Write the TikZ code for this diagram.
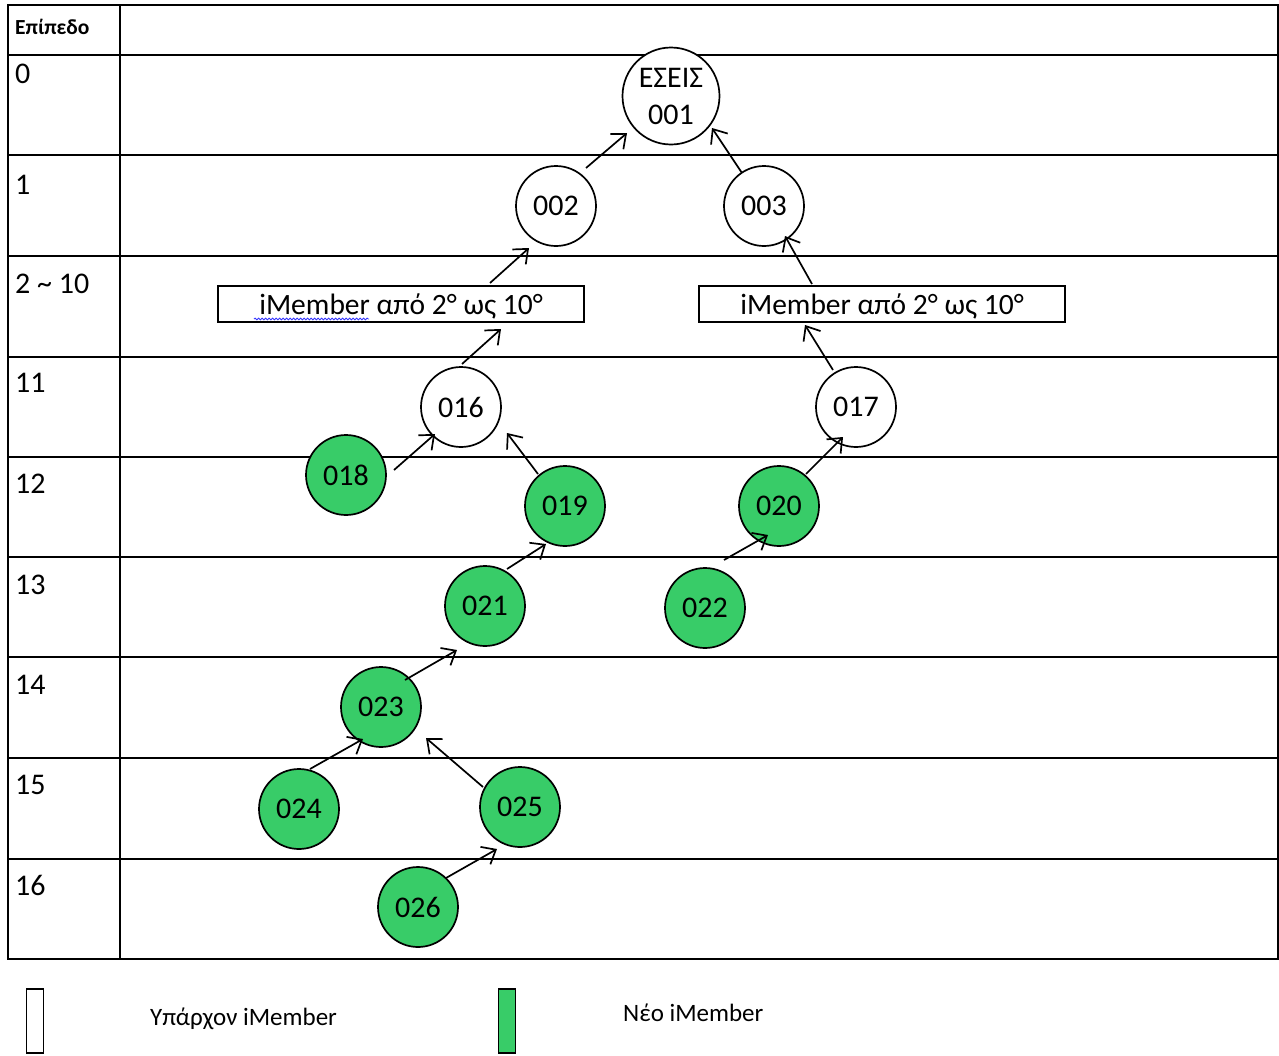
\documentclass[tikz,border=0pt]{standalone}
\usepackage{fontspec}
\setmainfont{Carlito}
\usetikzlibrary{arrows.meta,decorations.pathmorphing}
\definecolor{newgreen}{RGB}{56,204,104}
\begin{document}
\begin{tikzpicture}[x=1pt,y=-1pt,
  member/.style={circle,draw=black,line width=1.7pt,minimum size=80pt,inner sep=0pt,font=\fontsize{30}{37}\selectfont},
  old/.style={member,fill=white},
  new/.style={member,fill=newgreen},
  rangebox/.style={draw,line width=1.7pt,minimum width=366pt,minimum height=36pt,inner sep=0pt,text height=22pt,text depth=1pt,font=\fontsize{29.5}{35}\selectfont},
  lvl/.style={anchor=west,inner sep=0pt,font=\fontsize{30}{36}\selectfont},
  arr/.style={line width=1.7pt,-{Straight Barb[length=12pt,width=20pt]}},
  grid/.style={line width=1.5pt},
  legendbox/.style={draw,line width=1.8pt,minimum width=17pt,minimum height=64pt,inner sep=0pt},
  legendtext/.style={anchor=west,inner sep=0pt,font=\fontsize{25}{30}\selectfont}
]
\useasboundingbox (0,0) rectangle (1279,1055);
\fill[white] (0,0) rectangle (1279,1055);
% table
\draw[grid] (8,5) rectangle (1278,959);
\draw[grid] (120,5) -- (120,959);
\foreach \yy in {55,155,256,357,457,557,657,758,859} \draw[grid] (8,\yy) -- (1278,\yy);
% level labels
\node[anchor=west,inner sep=0pt,font=\bfseries\fontsize{21.5}{25}\selectfont] (hdr) at (15,27) {Επίπεδο};
\node[lvl] (l0) at (15,73.5) {0};
\node[lvl] (l1) at (15,185) {1};
\node[lvl] (l2) at (15,284) {2 \char"007E{} 10};
\node[lvl] (l11) at (15,383) {11};
\node[lvl] (l12) at (15,484) {12};
\node[lvl] (l13) at (15,584.5) {13};
\node[lvl] (l14) at (15,685) {14};
\node[lvl] (l15) at (15,784.5) {15};
\node[lvl] (l16) at (15,885) {16};
% members
\node[old,align=center,minimum size=97pt] (n001) at (671,96) {ΕΣΕΙΣ\\001};
\node[old] (n002) at (556,206) {002};
\node[old] (n003) at (764,206) {003};
\node[rangebox] (bl) at (401,304) {iMember από 2° ως 10°};
\node[rangebox] (br) at (882,304) {iMember από 2° ως 10°};
\node[old] (n016) at (461,407) {016};
\node[old] (n017) at (856,407) {017};
\node[new] (n018) at (346,475) {018};
\node[new] (n019) at (565,506) {019};
\node[new] (n020) at (779,506) {020};
\node[new] (n021) at (485,606) {021};
\node[new] (n022) at (705,608) {022};
\node[new] (n023) at (381,707) {023};
\node[new] (n024) at (299,809) {024};
\node[new] (n025) at (520,807) {025};
\node[new] (n026) at (418,907) {026};
% spell-check underline
\draw[blue!80!white,line width=0.8pt,decorate,decoration={snake,amplitude=0.9pt,segment length=3.5pt}] (254,319) -- (369,319);
% connectors
\draw[arr] ([shift={(30,-38)}]n002.center) -- ([shift={(-44,37)}]n001.center);
\draw[arr] ([shift={(-22,-33)}]n003.center) -- ([shift={(41,32)}]n001.center);
\draw[arr] ([shift={(89,-21)}]bl.center) -- ([shift={(-27,42)}]n002.center);
\draw[arr] ([shift={(-70,-20)}]br.center) -- ([shift={(21,30)}]n003.center);
\draw[arr] ([shift={(1,-43)}]n016.center) -- ([shift={(100,25)}]bl.center);
\draw[arr] ([shift={(-23,-37)}]n017.center) -- ([shift={(-77,21)}]br.center);
\draw[arr] ([shift={(48,-5)}]n018.center) -- ([shift={(-26,27)}]n016.center);
\draw[arr] ([shift={(-27,-32)}]n019.center) -- ([shift={(46,26)}]n016.center);
\draw[arr] ([shift={(22,-37)}]n021.center) -- ([shift={(-19,38)}]n019.center);
\draw[arr] ([shift={(27,-32)}]n020.center) -- ([shift={(-13,30)}]n017.center);
\draw[arr] ([shift={(19,-48)}]n022.center) -- ([shift={(-11,29)}]n020.center);
\draw[arr] ([shift={(24,-27)}]n023.center) -- ([shift={(-28,44)}]n021.center);
\draw[arr] ([shift={(11,-40)}]n024.center) -- ([shift={(-18,32)}]n023.center);
\draw[arr] ([shift={(-37,-20)}]n025.center) -- ([shift={(45,31)}]n023.center);
\draw[arr] ([shift={(28,-29)}]n026.center) -- ([shift={(-23,42)}]n025.center);
% legend
\node[legendbox,fill=white] (lo) at (35,1021) {};
\node[legendbox,fill=newgreen] (ln) at (507,1021) {};
\node[legendtext] (lot) at (150,1019) {Υπάρχον iMember};
\node[legendtext] (lnt) at (623,1013) {Νέο iMember};
\end{tikzpicture}
\end{document}
